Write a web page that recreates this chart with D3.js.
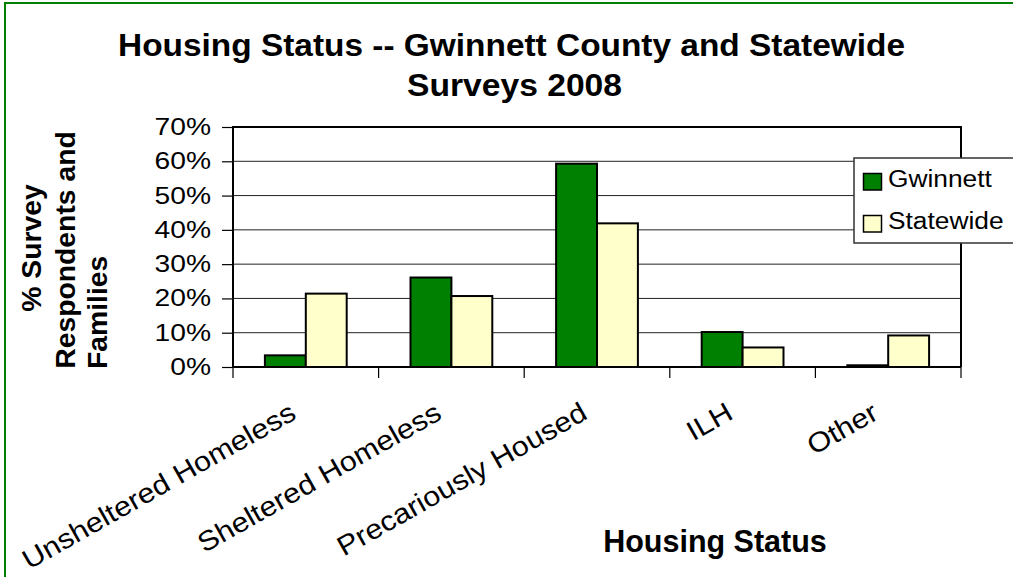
<!DOCTYPE html>
<html>
<head>
<meta charset="utf-8">
<script src="https://cdn.jsdelivr.net/npm/d3@7"></script>
<style>
  html, body { margin: 0; padding: 0; background: #fff; }
  svg { display: block; font-family: "Liberation Sans", Arial, sans-serif; }
</style>
</head>
<body>
<svg id="chart" width="1013" height="577"></svg>
<script>
// Housing status shares, Gwinnett County vs. statewide survey (2008)
const categories = ["Unsheltered Homeless", "Sheltered Homeless", "Precariously Housed", "ILH", "Other"];
const seriesNames = ["Gwinnett", "Statewide"];
const gwinnett = [0.034, 0.261, 0.593, 0.102, 0.005];
const statewide = [0.214, 0.207, 0.419, 0.057, 0.092];
const yTicks = [0, 0.1, 0.2, 0.3, 0.4, 0.5, 0.6, 0.7];
const colors = { Gwinnett: "#008000", Statewide: "#FFFFCC" };

const svg = d3.select("#chart");
const W = 1013, H = 577;
const plot = { left: 233, right: 961, top: 127, bottom: 367 };

// stretch text horizontally along its own direction
function stretch(sel, factor) {
  sel.each(function () {
    const len = this.getComputedTextLength();
    d3.select(this).attr("textLength", len * factor).attr("lengthAdjust", "spacingAndGlyphs");
  });
}

// outer frame
svg.append("rect").attr("x", 5).attr("y", 3).attr("width", W + 10).attr("height", H + 10)
  .attr("fill", "#fff").attr("stroke", "#008000").attr("stroke-width", 2);

const x = d3.scaleBand().domain(categories).range([plot.left, plot.right]).paddingInner(0).paddingOuter(0);
const xs = d3.scaleBand().domain(seriesNames).range([0, x.bandwidth()]).paddingInner(0).paddingOuter(0.78);
const y = d3.scaleLinear().domain([0, 0.7]).range([plot.bottom, plot.top]);

// gridlines
svg.append("g").selectAll("line").data(yTicks.slice(1, -1)).join("line")
  .attr("x1", plot.left).attr("x2", plot.right)
  .attr("y1", d => y(d)).attr("y2", d => y(d))
  .attr("stroke", "#222").attr("stroke-width", 1);

// y axis ticks and labels
const yAxis = svg.append("g").attr("transform", `translate(${plot.left},0)`)
  .call(d3.axisLeft(y).tickValues(yTicks).tickFormat(d3.format(".0%")).tickSize(11).tickPadding(11));
yAxis.select(".domain").remove();
yAxis.selectAll(".tick line").attr("stroke", "#000").attr("stroke-width", 1.2);
yAxis.selectAll(".tick text").attr("font-size", 23.5).attr("fill", "#000")
  .attr("font-family", "Liberation Sans, Arial, sans-serif").call(stretch, 1.2);

// bars
const rows = categories.map((c, i) => ({ c, vals: [
  { s: "Gwinnett", v: gwinnett[i] }, { s: "Statewide", v: statewide[i] }] }));
const groups = svg.append("g").selectAll("g").data(rows).join("g")
  .attr("transform", d => `translate(${x(d.c)},0)`);
groups.selectAll("rect").data(d => d.vals).join("rect")
  .attr("x", d => xs(d.s)).attr("width", xs.bandwidth())
  .attr("y", d => y(d.v)).attr("height", d => y(0) - y(d.v))
  .attr("fill", d => colors[d.s]).attr("stroke", "#000").attr("stroke-width", 2);

// plot frame
svg.append("path")
  .attr("d", `M${plot.left},${plot.top}H${plot.right}V${plot.bottom}`)
  .attr("fill", "none").attr("stroke", "#000").attr("stroke-width", 2);
svg.append("path")
  .attr("d", `M${plot.left},${plot.top - 1}V${plot.bottom}H${plot.right}`)
  .attr("fill", "none").attr("stroke", "#000").attr("stroke-width", 2);

// category boundary ticks
const bounds = categories.map(c => x(c)).concat([plot.right]);
svg.append("g").selectAll("line").data(bounds).join("line")
  .attr("x1", d => d).attr("x2", d => d)
  .attr("y1", plot.bottom).attr("y2", plot.bottom + 11)
  .attr("stroke", "#000").attr("stroke-width", 1.2);

// rotated category labels
svg.append("g").selectAll("text").data(categories).join("text")
  .attr("transform", d => `translate(${x(d) + x.bandwidth() / 2 - 8},418) rotate(-29.5)`)
  .attr("text-anchor", "end").attr("font-size", 27.5).attr("fill", "#000")
  .text(d => d).call(stretch, 1.11);

// legend
const lg = svg.append("g").attr("transform", "translate(854,158)");
lg.append("rect").attr("x", 0).attr("y", 0).attr("width", 180).attr("height", 85)
  .attr("fill", "#fff").attr("stroke", "#333").attr("stroke-width", 1.5);
const li = lg.selectAll("g.item").data(seriesNames).join("g").attr("class", "item")
  .attr("transform", (d, i) => `translate(0,${i * 42})`);
li.append("rect").attr("x", 9.5).attr("y", 15.5).attr("width", 18).attr("height", 16.5)
  .attr("fill", d => colors[d]).attr("stroke", "#000").attr("stroke-width", 1.5);
li.append("text").attr("x", 34).attr("y", 28.5).attr("font-size", 23.5).attr("fill", "#000")
  .text(d => d).call(stretch, 1.12);

// chart title
const title = svg.append("text").attr("text-anchor", "middle")
  .attr("font-size", 32).attr("font-weight", "bold").attr("fill", "#000");
title.append("tspan").attr("x", 511.5).attr("y", 56)
  .attr("textLength", 787).attr("lengthAdjust", "spacingAndGlyphs")
  .text("Housing Status -- Gwinnett County and Statewide");
title.append("tspan").attr("x", 514.5).attr("y", 96)
  .attr("textLength", 215).attr("lengthAdjust", "spacingAndGlyphs")
  .text("Surveys 2008");

// axis titles
svg.append("text").attr("x", 715).attr("y", 552).attr("text-anchor", "middle")
  .attr("font-size", 30.5).attr("font-weight", "bold").attr("fill", "#000").text("Housing Status");

const yTitleLines = [
  { t: "% Survey", x: 41, y: 248, anchor: "middle" },
  { t: "Respondents and", x: 75, y: 250, anchor: "middle" },
  { t: "Families", x: 107, y: 369, anchor: "start" }
];
svg.append("g").selectAll("text").data(yTitleLines).join("text")
  .attr("transform", d => `translate(${d.x},${d.y}) rotate(-90)`)
  .attr("text-anchor", d => d.anchor)
  .attr("font-size", 27.5).attr("font-weight", "bold").attr("fill", "#000")
  .text(d => d.t).call(stretch, 1.03);
</script>
</body>
</html>
